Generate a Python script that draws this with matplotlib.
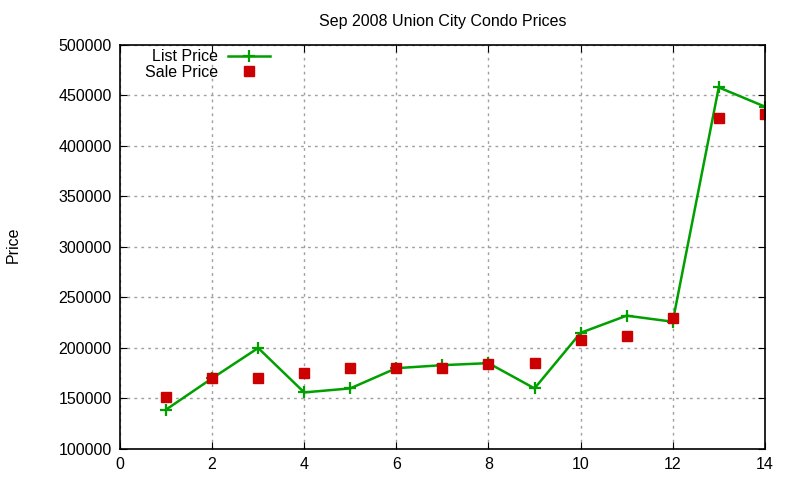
import matplotlib
matplotlib.use("Agg")
import matplotlib.pyplot as plt

# values
listing = [1, 2, 3, 4, 5, 6, 7, 8, 9, 10, 11, 12, 13, 14]
list_price = [139000, 170000, 200000, 156000, 160000, 180000, 183000,
              185000, 160000, 215000, 232000, 226000, 458000, 439000]
sale_price = [151000, 170000, 170000, 175000, 180000, 180000, 180000,
              184000, 185000, 208000, 212000, 230000, 428000, 432000]

x_ticks = [0, 2, 4, 6, 8, 10, 12, 14]
y_ticks = [100000, 150000, 200000, 250000, 300000, 350000, 400000, 450000, 500000]

plt.rcParams["font.family"] = ["Liberation Sans", "DejaVu Sans"]

fig = plt.figure(figsize=(8, 4.8), dpi=100)
ax = fig.add_axes([0.15, 0.0646, 0.806, 0.8417])

ax.plot(listing, list_price, color="#00a000", linewidth=1.8, marker="+",
        markersize=9, markeredgewidth=1.6, label="List Price")
ax.plot(listing, sale_price, linestyle="none", color="#cc0000", marker="s",
        markersize=6.5, label="Sale Price")

ax.set_xlim(0, 14)
ax.set_ylim(100000, 500000)
ax.set_xticks(x_ticks)
ax.set_yticks(y_ticks)
ax.tick_params(direction="in", top=True, right=True, length=5, labelsize=11.5, pad=6)
ax.grid(True, color="#a0a0a0", linestyle=(0, (2, 3)), linewidth=1)
for s in ax.spines.values():
    s.set_linewidth(1.2)

ax.set_title("Sep 2008 Union City Condo Prices", fontsize=11.5, pad=14)
fig.text(0.016, 0.49, "Price", rotation=90, fontsize=11.5, va="center", ha="center")

ax.legend(loc="upper left", bbox_to_anchor=(0.022, 1.017), frameon=False,
          markerfirst=False, fontsize=11.5, handlelength=2.6, handletextpad=0.6,
          labelspacing=0.05, borderaxespad=0.3)

fig.savefig("out.png", dpi=100)
